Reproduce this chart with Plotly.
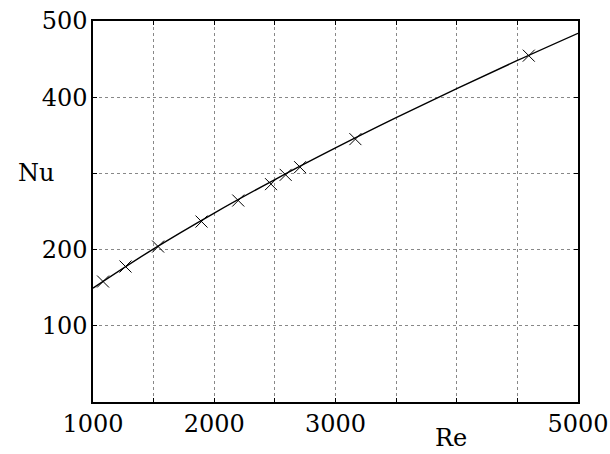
import plotly.graph_objects as go

# Measured data points (Re, Nu)
re_pts = [1083, 1268, 1537, 1895, 2198, 2468, 2589, 2708, 3164, 4594]
nu_pts = [158.1, 177.8, 204.0, 236.8, 264.4, 285.9, 298.1, 308.2, 345.0, 454.5]

# Fitted curve
re_line = [1000, 1500, 2000, 2500, 3000, 3500, 4000, 4500, 5000]
nu_line = [149.5, 201.0, 248.0, 291.9, 333.4, 373.1, 411.3, 448.2, 483.9]

x_ticks = [1000, 1500, 2000, 2500, 3000, 3500, 4000, 4500, 5000]
x_text = ["1000", "", "2000", "", "3000", "", "", "", "5000"]
y_ticks = [0, 100, 200, 300, 400, 500]
y_text = ["", "100", "200", "", "400", "500"]

FONT = "DejaVu Serif"

fig = go.Figure()
fig.add_trace(go.Scatter(x=re_line, y=nu_line, mode="lines",
                         line=dict(color="black", width=1.4, shape="spline"),
                         showlegend=False, hoverinfo="skip"))
fig.add_trace(go.Scatter(x=re_pts, y=nu_pts, mode="markers",
                         marker=dict(symbol="x-thin", size=12,
                                     line=dict(color="black", width=1)),
                         showlegend=False))

fig.update_layout(
    width=610, height=454,
    margin=dict(l=93, r=32, t=21, b=52),
    paper_bgcolor="white", plot_bgcolor="white",
    font=dict(family=FONT, size=24, color="black"),
    xaxis=dict(range=[1000, 5000], tickvals=x_ticks, ticktext=x_text,
               showgrid=True, gridcolor="#888", griddash="dot", gridwidth=1,
               showline=True, linecolor="black", linewidth=1.5, mirror="ticks",
               ticks="inside", ticklen=4, tickcolor="black", automargin=False,
               zeroline=False, ticklabelstandoff=-1),
    yaxis=dict(range=[0, 500], tickvals=y_ticks, ticktext=y_text,
               showgrid=True, gridcolor="#888", griddash="dot", gridwidth=1,
               showline=True, linecolor="black", linewidth=1.5, mirror="ticks",
               ticks="inside", ticklen=4, tickcolor="black", automargin=False,
               zeroline=False, ticklabelstandoff=-1),
    annotations=[
        dict(text="Nu", xref="paper", yref="y", x=-0.117, y=300,
             xanchor="center", yanchor="middle", showarrow=False,
             font=dict(family=FONT, size=24)),
        dict(text="Re", xref="x", yref="paper", x=3950, y=-0.095,
             xanchor="center", yanchor="middle", showarrow=False,
             font=dict(family=FONT, size=24)),
    ],
)

fig.write_html("out.html")
